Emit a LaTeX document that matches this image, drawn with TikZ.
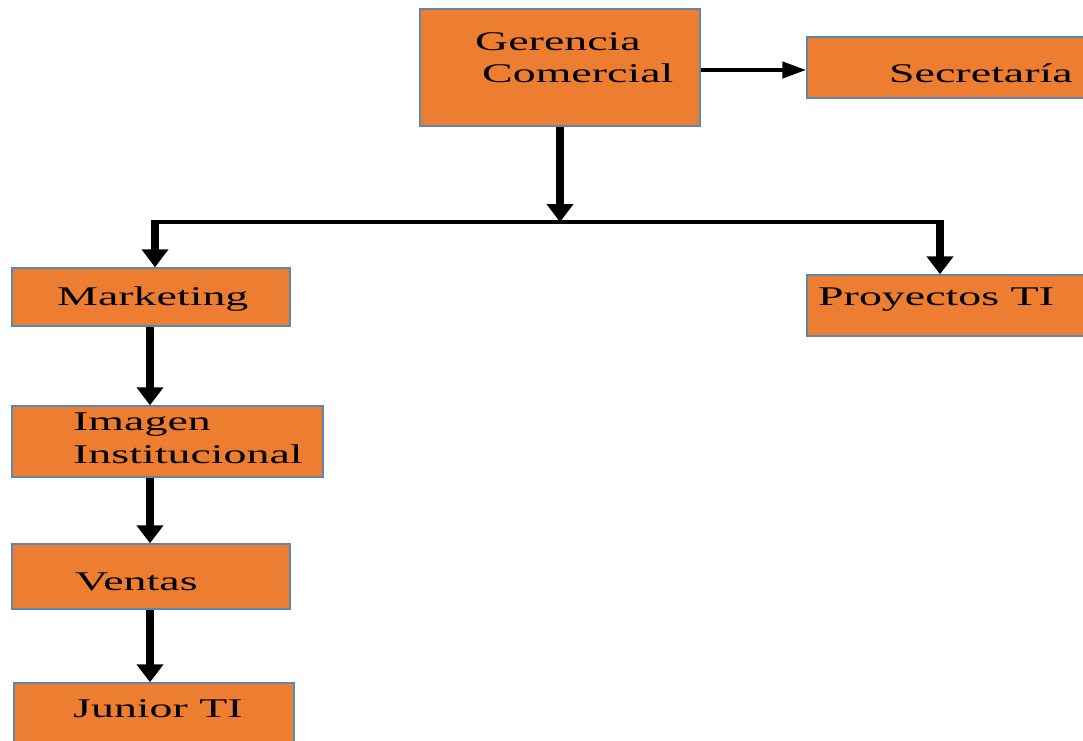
\documentclass[tikz,border=0pt]{standalone}
\usepackage{fontspec}
\setmainfont{Liberation Serif}[FakeStretch=1.7]
\usetikzlibrary{arrows.meta}
\definecolor{boxfill}{HTML}{ED7D31}
\definecolor{boxline}{HTML}{5B87B5}
\tikzset{
  orgbox/.style={draw=boxline, line width=1.5pt, fill=boxfill, rectangle, inner sep=0pt},
  lbl/.style={anchor=base west, inner sep=0pt, font=\fontsize{27}{30}\selectfont, text=black},
  vline/.style={line width=8pt, -{Triangle[width=26pt,length=18pt]}},
  hline/.style={line width=4.5pt, -{Triangle[width=16pt,length=24pt]}},
  bus/.style={line width=4.5pt}
}
\begin{document}
\begin{tikzpicture}[x=1pt,y=-1pt]
\useasboundingbox (0,0) rectangle (1083,740);
\clip (0,0) rectangle (1083,740);
% boxes
\node[orgbox, minimum width=280pt, minimum height=117pt] (g) at (560,67.5) {};
\node[orgbox, minimum width=293pt, minimum height=61pt] (s) at (953.5,67.5) {};
\node[orgbox, minimum width=293pt, minimum height=61pt] (p) at (953.5,305.5) {};
\node[orgbox, minimum width=278pt, minimum height=58pt] (mk) at (151,297) {};
\node[orgbox, minimum width=311pt, minimum height=71pt] (im) at (167.5,441.5) {};
\node[orgbox, minimum width=278pt, minimum height=65pt] (v) at (151,576.5) {};
\node[orgbox, minimum width=280pt, minimum height=77pt] (j) at (154,721.5) {};
% labels
\node[lbl] (tg1) at (475,50) {Gerencia};
\node[lbl] (tg2) at (482,82) {Comercial};
\node[lbl] (ts) at (889,82) {Secretaría};
\node[lbl] (tp) at (818,305) {Proyectos TI};
\node[lbl] (tmk) at (57,305) {Marketing};
\node[lbl] (tim1) at (73,430) {Imagen};
\node[lbl] (tim2) at (73,463) {Institucional};
\node[lbl] (tv) at (75,590) {Ventas};
\node[lbl] (tj) at (73,717) {Junior TI};
% connectors
\coordinate (busM) at (560,222);
\coordinate (busL) at (155,222);
\coordinate (busR) at (940,222);
\draw[hline] (g.east |- 0,70) -- (s.west |- 0,70);
\draw[vline] (g.south) -- (busM);
\draw[bus] ([xshift=-4pt]busL) -- ([xshift=4pt]busR);
\draw[vline] ([yshift=2.25pt]busL) -- (busL |- mk.north);
\draw[vline] ([yshift=2.25pt]busR) -- (busR |- p.north);
\draw[vline] (mk.south -| 150,0) -- (150,0 |- im.north);
\draw[vline] (im.south -| 150,0) -- (150,0 |- v.north);
\draw[vline] (v.south -| 150,0) -- (150,0 |- j.north);
\end{tikzpicture}
\end{document}
